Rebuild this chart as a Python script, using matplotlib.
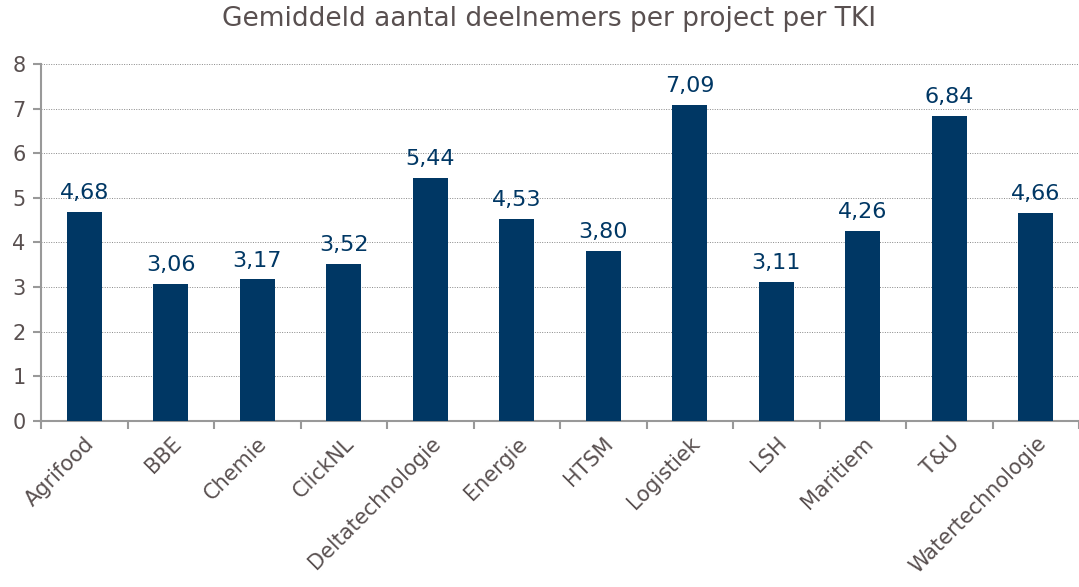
import matplotlib.pyplot as plt
import numpy as np

# Data
categories = ['Agrifood', 'BBE', 'Chemie', 'ClickNL', 'Deltatechnologie', 'Energie',
              'HTSM', 'Logistiek', 'LSH', 'Maritiem', 'T&U', 'Watertechnologie']
values = [4.68, 3.06, 3.17, 3.52, 5.44, 4.53, 3.80, 7.09, 3.11, 4.26, 6.84, 4.66]
yticks = [0, 1, 2, 3, 4, 5, 6, 7, 8]

bar_color = '#003764'
text_color = '#595050'
axis_color = '#999999'

fig = plt.figure(figsize=(10.79, 5.87), dpi=100)
ax = fig.add_axes([0.038, 0.283, 0.962, 0.608])

x = np.arange(len(categories))
ax.bar(x, values, width=0.4, color=bar_color, zorder=3)

for xi, v in zip(x, values):
    ax.text(xi, v + 0.2, f'{v:.2f}'.replace('.', ','), ha='center', va='bottom',
            fontsize=16, color=bar_color)

ax.set_xlim(-0.5, len(categories) - 0.5)
ax.set_ylim(0, 8)
ax.set_yticks(yticks)
ax.yaxis.grid(True, linestyle=(0, (1, 1.5)), color='#888888', linewidth=0.7, zorder=0)

# category ticks at boundaries, labels at centres
ax.set_xticks(np.arange(len(categories) + 1) - 0.5)
ax.set_xticklabels([])
ax.set_xticks(x, minor=True)
ax.set_xticklabels(categories, minor=True, rotation=45, ha='right',
                   rotation_mode='anchor', fontsize=15, color=text_color)
ax.tick_params(axis='x', which='minor', length=0, pad=9)
ax.tick_params(axis='x', which='major', length=6, color=axis_color, width=1.5)
ax.tick_params(axis='y', length=6, color=axis_color, width=1.5, labelsize=15,
               labelcolor=text_color, pad=5)

for side in ['top', 'right']:
    ax.spines[side].set_visible(False)
for side in ['left', 'bottom']:
    ax.spines[side].set_color(axis_color)
    ax.spines[side].set_linewidth(1.5)

fig.suptitle('Gemiddeld aantal deelnemers per project per TKI', x=0.509, y=0.99,
             fontsize=19, color=text_color)

fig.savefig('out.png', dpi=100)
